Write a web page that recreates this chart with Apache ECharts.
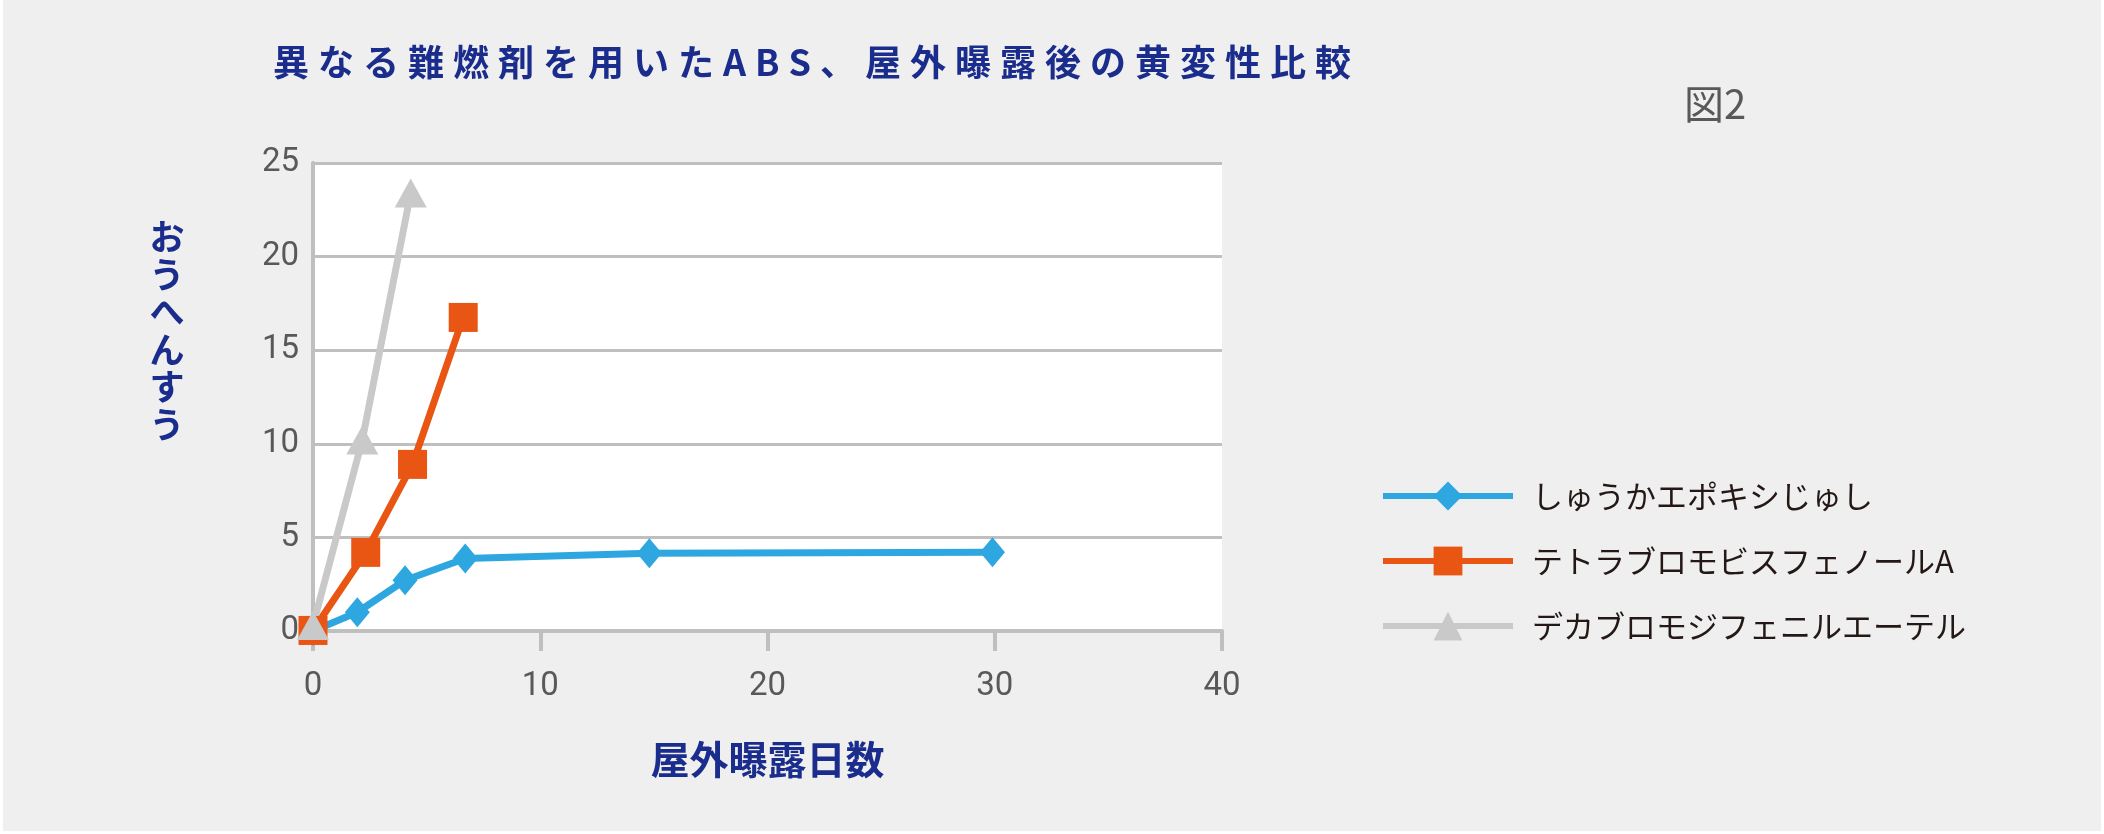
<!DOCTYPE html>
<html>
<head>
<meta charset="utf-8">
<script src="https://cdn.jsdelivr.net/npm/echarts@6/dist/echarts.min.js"></script>
<style>
html,body{margin:0;padding:0;background:#ffffff;}
#c{position:absolute;left:3px;top:0;width:2098px;height:831px;background:#efefef;}
</style>
</head>
<body>
<div id="c"></div>
<script>
const titleText = '異なる難燃剤を用いたABS、屋外曝露後の黄変性比較';
const figLabel = '図2';
const yAxisTitle = 'おうへんすう';
const xAxisTitle = '屋外曝露日数';
const seriesNames = ['しゅうかエポキシじゅし', 'テトラブロモビスフェノールA', 'デカブロモジフェニルエーテル'];
const epoxyData = [[0, 0], [1.95, 1.0], [4.05, 2.71], [6.7, 3.87], [14.8, 4.15], [29.9, 4.21]];
const tbbpaData = [[0, 0.03], [2.32, 4.2], [4.38, 8.9], [6.61, 16.75]];
const decaData = [[0, 0.3], [2.17, 10.2], [4.3, 23.4]];
const xTicks = [0, 10, 20, 30, 40];
const yTicks = [0, 5, 10, 15, 20, 25];

const chart = echarts.init(document.getElementById('c'), null, {renderer: 'canvas'});
const gridColor = '#bfbfbf';
const navy = '#1b2d8c';
const spaced = s => s.split('').join('\u2005');
const option = {
  backgroundColor: '#efefef',
  animation: false,
  grid: {left: 310, top: 163, width: 909, height: 468, show: true, backgroundColor: '#ffffff', borderWidth: 0},
  xAxis: {
    type: 'value', min: xTicks[0], max: xTicks[xTicks.length - 1], interval: 10,
    name: xAxisTitle, nameLocation: 'middle', nameGap: 109,
    nameTextStyle: {color: navy, fontSize: 39, fontWeight: 'bold', fontFamily: 'Noto Sans CJK JP'},
    axisLine: {show: true, lineStyle: {color: gridColor, width: 4}},
    axisTick: {show: true, length: 20, lineStyle: {color: gridColor, width: 4}},
    axisLabel: {color: '#595959', fontSize: 33, margin: 39, fontFamily: 'Roboto'},
    splitLine: {show: false}
  },
  yAxis: {
    type: 'value', min: yTicks[0], max: yTicks[yTicks.length - 1], interval: 5,
    axisLine: {show: true, lineStyle: {color: gridColor, width: 4}},
    axisTick: {show: false},
    axisLabel: {color: '#595959', fontSize: 33, margin: 14, fontFamily: 'Roboto'},
    splitLine: {show: true, lineStyle: {color: gridColor, width: 3}}
  },
  legend: {
    orient: 'vertical', left: 1372, top: 473, itemWidth: 130, itemHeight: 36, itemGap: 29,
    lineStyle: {width: 6},
    textStyle: {color: '#231815', fontSize: 31, fontFamily: 'Noto Sans CJK JP', padding: [0, 0, 0, 14], lineHeight: 36},
    data: seriesNames
  },
  graphic: [
    {type: 'text', left: 270, top: 44, style: {text: spaced(titleText), fill: navy, font: 'bold 36px "Noto Sans CJK JP"'}},
    {type: 'text', left: 1681, top: 84, style: {text: figLabel, fill: '#595959', font: '40px "Noto Sans CJK JP"'}},
    {type: 'text', x: 164, y: 218, style: {text: yAxisTitle.split('').join('\n'), fill: navy, font: 'bold 35px "Noto Sans CJK JP"', lineHeight: 37.5, align: 'center', verticalAlign: 'top'}}
  ],
  series: [
    {name: seriesNames[0], type: 'line', data: epoxyData, symbol: 'diamond', symbolSize: [25, 30],
     lineStyle: {color: '#2ea7e0', width: 7}, itemStyle: {color: '#2ea7e0'}},
    {name: seriesNames[1], type: 'line', data: tbbpaData, symbol: 'rect', symbolSize: 29,
     lineStyle: {color: '#e95513', width: 7}, itemStyle: {color: '#e95513'}},
    {name: seriesNames[2], type: 'line', data: decaData, symbol: 'triangle', symbolSize: [32, 29],
     lineStyle: {color: '#c9c9c9', width: 7}, itemStyle: {color: '#c9c9c9'}}
  ]
};
chart.setOption(option);
</script>
</body>
</html>
